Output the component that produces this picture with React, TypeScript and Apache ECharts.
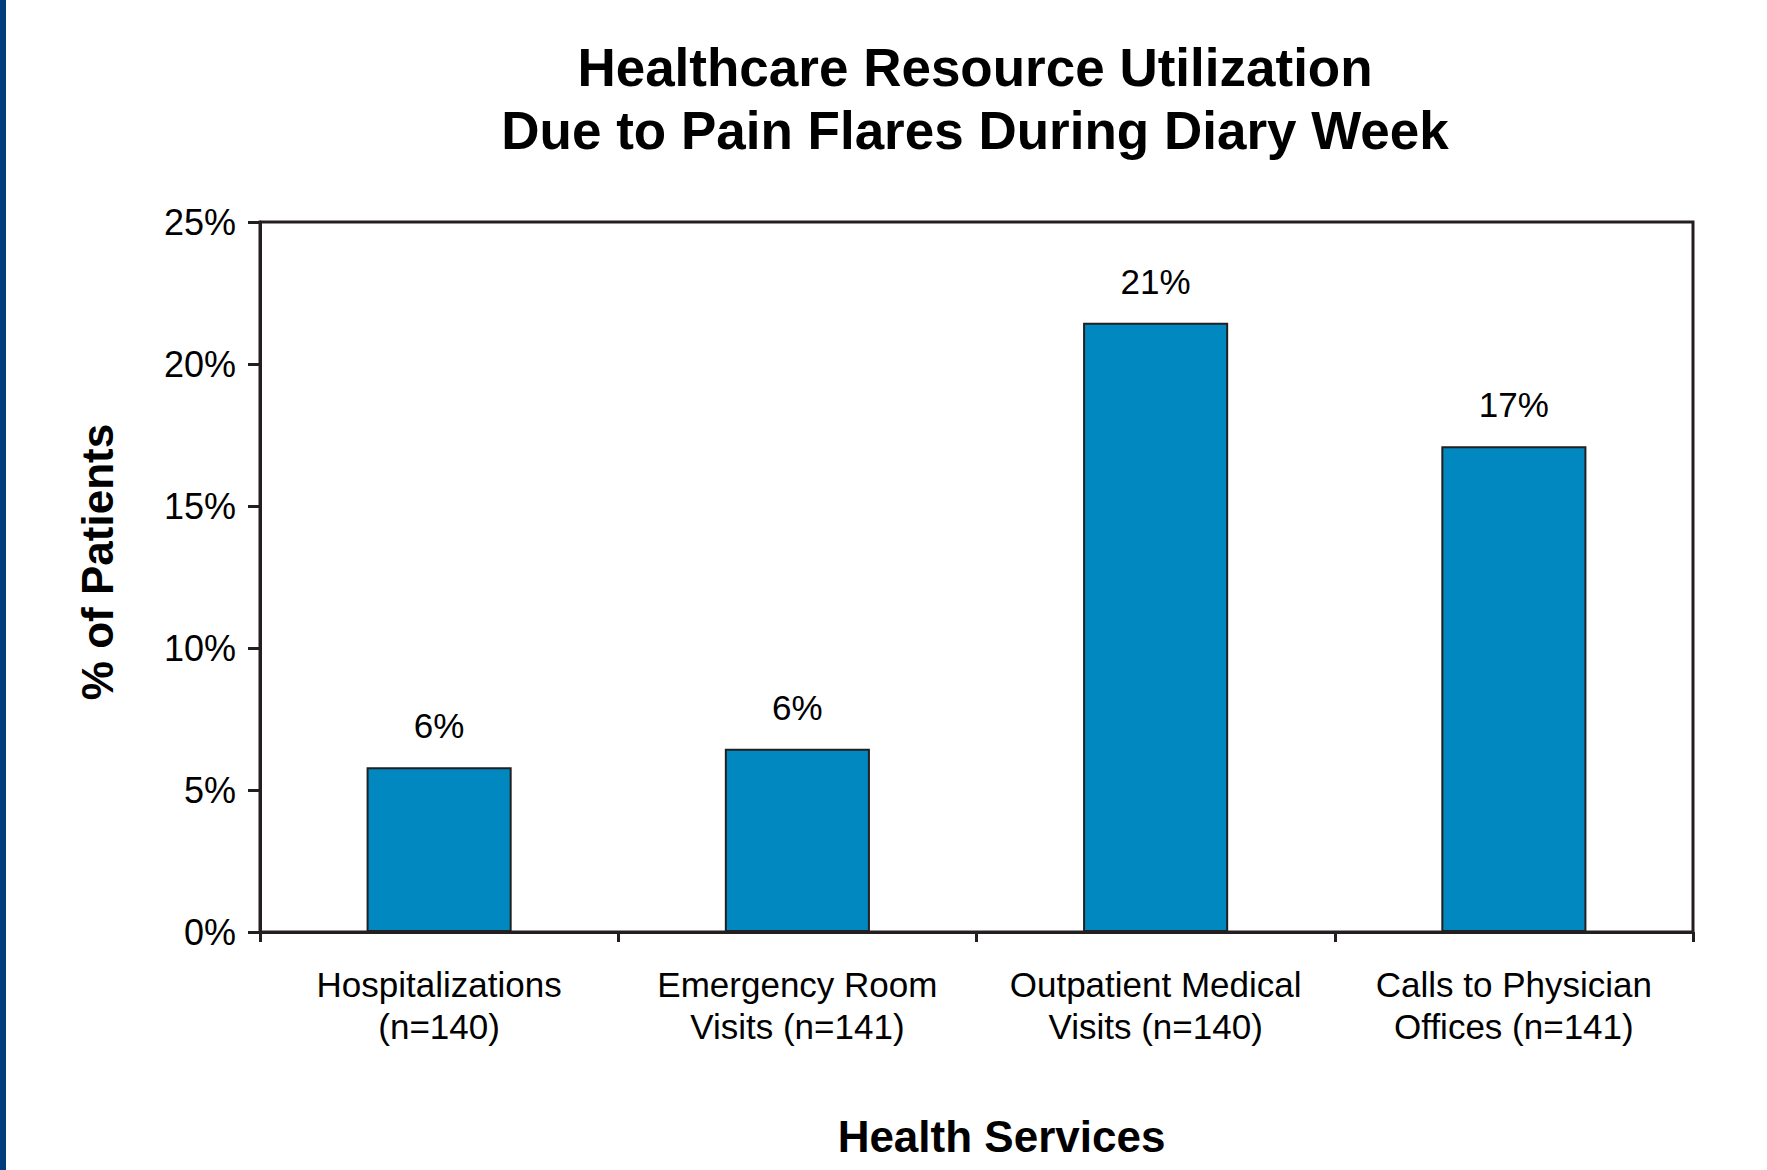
import React, { useEffect, useRef } from "react";
import * as echarts from "echarts";

const titleLines = ["Healthcare Resource Utilization", "Due to Pain Flares During Diary Week"];
const categories = [
  "Hospitalizations\n(n=140)",
  "Emergency Room\nVisits (n=141)",
  "Outpatient Medical\nVisits (n=140)",
  "Calls to Physician\nOffices (n=141)",
];
const percentValues = [5.8, 6.45, 21.45, 17.1];
const yAxisName = "% of Patients";
const xAxisName = "Health Services";

const FONT = "'Liberation Sans', Arial, Helvetica, sans-serif";
const INK = "#231f20";

export default function App() {
  const ref = useRef<HTMLDivElement>(null);
  useEffect(() => {
    if (!ref.current) return;
    const chart = echarts.init(ref.current, undefined, { renderer: "svg" });
    chart.setOption({
      animation: false,
      backgroundColor: "#ffffff",
      title: {
        text: titleLines.join("\n"),
        left: 970,
        top: 31,
        textAlign: "center",
        textStyle: {
          fontFamily: FONT,
          fontSize: 53,
          fontWeight: "bold",
          color: "#000000",
          lineHeight: 63,
        },
      },
      graphic: [
        {
          type: "rect",
          shape: { x: 0, y: 0, width: 6, height: 1170 },
          style: { fill: "#013d7c" },
          silent: true,
        },
      ],
      grid: {
        left: 260,
        right: 74,
        top: 222,
        bottom: 238,
        show: true,
        borderColor: INK,
        borderWidth: 3,
        backgroundColor: "transparent",
      },
      xAxis: {
        type: "category",
        data: categories,
        name: xAxisName,
        nameLocation: "middle",
        nameGap: 182,
        nameTextStyle: {
          fontFamily: FONT,
          fontSize: 44,
          fontWeight: "bold",
          color: "#000",
          padding: [0, 0, 0, 50],
        },
        axisLine: { show: true, lineStyle: { color: INK, width: 3 } },
        axisTick: { show: true, alignWithLabel: false, length: 10, lineStyle: { color: INK, width: 3 } },
        axisLabel: {
          interval: 0,
          margin: 31,
          fontFamily: FONT,
          fontSize: 35,
          lineHeight: 42,
          color: "#000",
        },
        splitLine: { show: false },
      },
      yAxis: {
        type: "value",
        min: 0,
        max: 25,
        interval: 5,
        name: yAxisName,
        nameLocation: "middle",
        nameGap: 141,
        nameTextStyle: {
          fontFamily: FONT,
          fontSize: 44,
          fontWeight: "bold",
          color: "#000",
          padding: [0, 0, 0, 30],
        },
        axisLine: { show: true, lineStyle: { color: INK, width: 3 } },
        axisTick: { show: true, length: 12, lineStyle: { color: INK, width: 3 } },
        axisLabel: {
          formatter: "{value}%",
          margin: 24,
          fontFamily: FONT,
          fontSize: 36,
          color: "#000",
        },
        splitLine: { show: false },
      },
      series: [
        {
          type: "bar",
          data: percentValues,
          barWidth: "40.5%",
          itemStyle: { color: "#0288c0", borderColor: INK, borderWidth: 2 },
          label: {
            show: true,
            position: "top",
            distance: 24,
            formatter: (p: any) => `${Math.round(p.value)}%`,
            fontFamily: FONT,
            fontSize: 35,
            color: "#000",
          },
        },
      ],
    });
    return () => chart.dispose();
  }, []);
  return (
    <div
      ref={ref}
      style={{ position: "absolute", left: 0, top: 0, width: 1767, height: 1170 }}
    />
  );
}
